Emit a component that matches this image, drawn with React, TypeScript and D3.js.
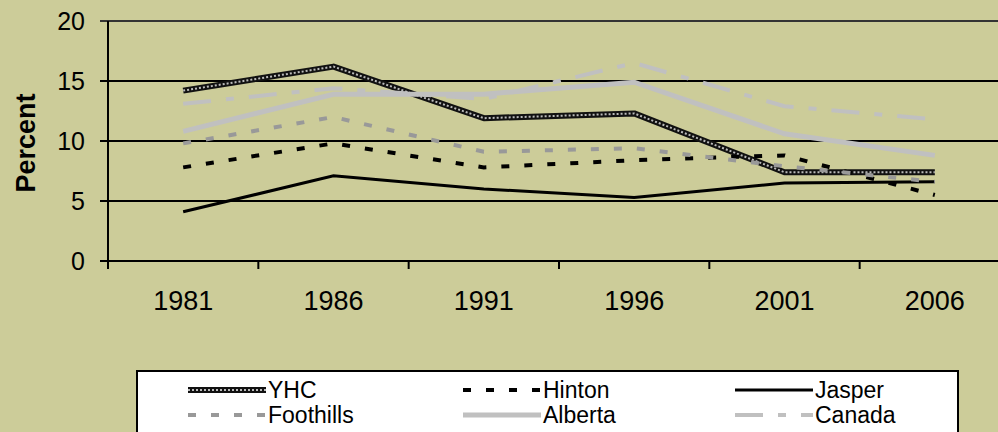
import React from "react";
import * as d3 from "d3";

const years = ["1981", "1986", "1991", "1996", "2001", "2006"];
const yhc = [14.2, 16.2, 11.9, 12.3, 7.4, 7.4];
const hinton = [7.8, 9.8, 7.8, 8.4, 8.8, 5.5];
const jasper = [4.1, 7.1, 6.0, 5.3, 6.5, 6.6];
const foothills = [9.8, 12.0, 9.1, 9.4, 7.9, 6.6];
const alberta = [10.8, 13.9, 13.9, 14.9, 10.6, 8.8];
const canada = [13.1, 14.4, 13.5, 16.5, 12.9, 11.8];
const yTicks = [0, 5, 10, 15, 20];

type S = { name: string; values: number[]; kind: string };
const series: S[] = [
  { name: "YHC", values: yhc, kind: "yhc" },
  { name: "Hinton", values: hinton, kind: "hinton" },
  { name: "Jasper", values: jasper, kind: "jasper" },
  { name: "Foothills", values: foothills, kind: "foothills" },
  { name: "Alberta", values: alberta, kind: "alberta" },
  { name: "Canada", values: canada, kind: "canada" },
];

const W = 998;
const H = 432;
const BG = "#CCCC99";
const FONT = "'Liberation Sans', Arial, sans-serif";

function Styled({ d, kind }: { d: string; kind: string }) {
  switch (kind) {
    case "yhc":
      return (
        <g>
          <path d={d} fill="none" stroke="#111" strokeWidth={6} strokeLinejoin="round" />
          <path d={d} fill="none" stroke="#bbb" strokeWidth={2} strokeDasharray="2 2" />
        </g>
      );
    case "hinton":
      return <path d={d} fill="none" stroke="#000" strokeWidth={4} strokeDasharray="8 15" />;
    case "jasper":
      return <path d={d} fill="none" stroke="#000" strokeWidth={3} />;
    case "foothills":
      return <path d={d} fill="none" stroke="#999999" strokeWidth={4} strokeDasharray="8 15" />;
    case "alberta":
      return <path d={d} fill="none" stroke="#C0C0C0" strokeWidth={5} />;
    default:
      return <path d={d} fill="none" stroke="#C0C0C0" strokeWidth={4} strokeDasharray="28 15 8 15" />;
  }
}

export default function App() {
  const x = d3.scaleBand<string>().domain(years).range([108, 1010]);
  const y = d3.scaleLinear().domain([0, 20]).range([261, 21]);
  const cx = (c: string) => (x(c) as number) + x.bandwidth() / 2;
  const line = d3
    .line<number>()
    .x((_, i) => cx(years[i]))
    .y((v) => y(v));

  const legendCols = [268, 543, 815];
  const legendRows = [390, 415];

  return (
    <svg
      width={W}
      height={H}
      style={{ position: "absolute", left: 0, top: 0, display: "block" }}
      fontFamily={FONT}
    >
      <rect x={0} y={0} width={W} height={H} fill={BG} />
      {yTicks.map((t) => (
        <line
          key={t}
          x1={100}
          x2={W}
          y1={y(t)}
          y2={y(t)}
          stroke={t === 20 ? "#333" : "#000"}
          strokeWidth={2}
        />
      ))}
      <line x1={108} x2={108} y1={21} y2={269} stroke="#000" strokeWidth={2} />
      {years.map((c) => (
        <line
          key={c}
          x1={x(c) as number}
          x2={x(c) as number}
          y1={261}
          y2={269}
          stroke="#000"
          strokeWidth={2}
        />
      ))}
      {yTicks.map((t) => (
        <text key={t} x={85} y={y(t)} dy="0.36em" textAnchor="end" fontSize={25} fill="#000">
          {t}
        </text>
      ))}
      {years.map((c) => (
        <text key={c} x={cx(c)} y={310} textAnchor="middle" fontSize={27} fill="#000">
          {c}
        </text>
      ))}
      <text
        transform="translate(35,143) rotate(-90)"
        textAnchor="middle"
        fontSize={27}
        fontWeight="bold"
        fill="#000"
      >
        Percent
      </text>
      {series.map((s) => (
        <Styled key={s.name} d={line(s.values) as string} kind={s.kind} />
      ))}
      <rect x={137} y={371} width={821} height={80} fill="#fff" stroke="#000" strokeWidth={2} />
      {series.map((s, i) => {
        const col = i % 3;
        const row = Math.floor(i / 3);
        const tx = legendCols[col];
        const ly = legendRows[row];
        const d = `M${tx - 80},${ly}L${tx - 2},${ly}`;
        return (
          <g key={s.name}>
            <Styled d={d} kind={s.kind} />
            <text x={tx} y={ly} dy="0.36em" fontSize={23} fill="#000">
              {s.name}
            </text>
          </g>
        );
      })}
    </svg>
  );
}
